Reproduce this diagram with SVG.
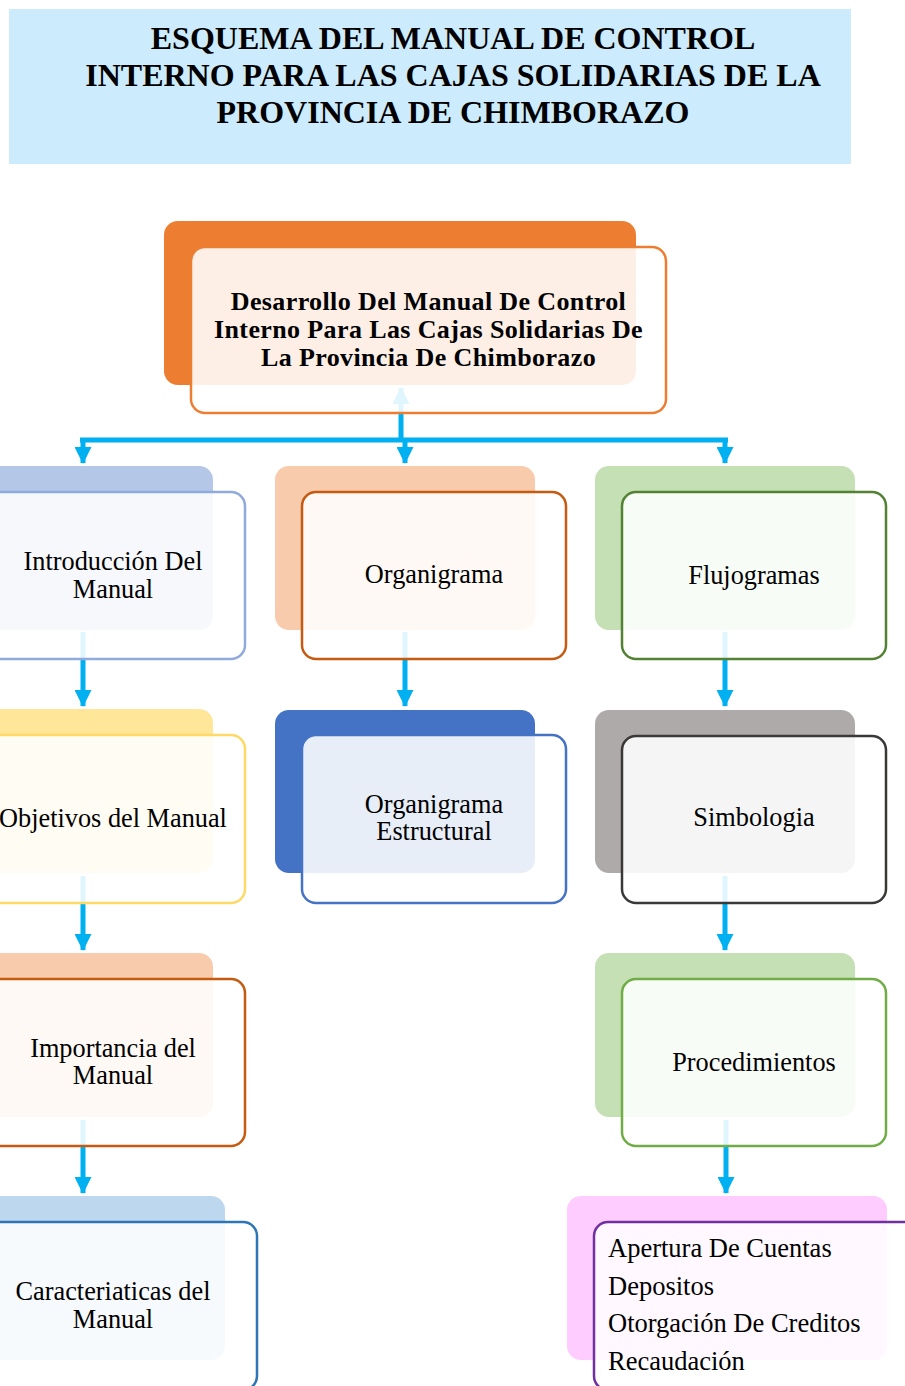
<svg xmlns="http://www.w3.org/2000/svg" width="905" height="1386" viewBox="0 0 905 1386">
<defs>
<marker id="ah" markerUnits="userSpaceOnUse" markerWidth="17" markerHeight="17" viewBox="0 0 17 17" refX="16" refY="8.5" orient="auto">
<path d="M0,0 L17,8.5 L0,17 z" fill="#00B0F0"/>
</marker>
<style>
.t{font-family:"Liberation Serif","Times New Roman",serif;font-size:26.3px;fill:#000;text-anchor:middle}
.tl{font-family:"Liberation Serif","Times New Roman",serif;font-size:26.5px;fill:#000}
.tb{font-family:"Liberation Serif","Times New Roman",serif;font-size:26px;letter-spacing:0.38px;font-weight:bold;fill:#000;text-anchor:middle}
.title{font-family:"Liberation Serif","Times New Roman",serif;font-size:32px;font-weight:bold;fill:#000;text-anchor:middle}
.fr{fill:#fff;fill-opacity:0.88;stroke-width:2.5}
.c{fill:none;stroke:#00B0F0;stroke-width:5;marker-end:url(#ah)}
.cn{fill:none;stroke:#00B0F0;stroke-width:5}
</style>
</defs>
<rect width="905" height="1386" fill="#fff"/>

<g id="title">
<rect x="9" y="9" width="842" height="155" fill="#CCEBFD"/>
<text class="title" x="453" y="49">ESQUEMA DEL MANUAL DE CONTROL</text>
<text class="title" x="453" y="86">INTERNO PARA LAS CAJAS SOLIDARIAS DE LA</text>
<text class="title" x="453" y="123">PROVINCIA DE CHIMBORAZO</text>
</g>

<g id="connectors">
<path class="c" d="M401,440 L401,388"/>
<path class="cn" d="M80,440 L728,440"/>
<path class="c" d="M83,438 L83,463"/>
<path class="c" d="M405,442 L405,463"/>
<path class="c" d="M725,438 L725,463"/>
<path class="c" d="M83,632 L83,706"/>
<path class="c" d="M405,632 L405,706"/>
<path class="c" d="M725,632 L725,706"/>
<path class="c" d="M83,876 L83,950"/>
<path class="c" d="M725,876 L725,950"/>
<path class="c" d="M83,1120 L83,1193"/>
<path class="c" d="M726,1120 L726,1193"/>
</g>

<g id="root">
<rect x="164" y="221" width="472" height="164" rx="14" fill="#ED7D31"/>
<rect class="fr" x="191" y="247" width="475" height="166" rx="14" stroke="#ED7D31"/>
<text class="tb" x="428.5" y="310">Desarrollo Del Manual De Control</text>
<text class="tb" x="428.5" y="338">Interno Para Las Cajas Solidarias De</text>
<text class="tb" x="428.5" y="366">La Provincia De Chimborazo</text>
</g>

<g id="introduccion">
<rect x="-47" y="466" width="260" height="164" rx="14" fill="#B4C7E7"/>
<rect class="fr" x="-19" y="492" width="264" height="167" rx="14" stroke="#8FAADC"/>
<text class="t" x="113" y="570">Introducción Del</text>
<text class="t" x="113" y="598">Manual</text>
</g>

<g id="organigrama">
<rect x="275" y="466" width="260" height="164" rx="14" fill="#F8CBAD"/>
<rect class="fr" x="302" y="492" width="264" height="167" rx="14" stroke="#C55A11"/>
<text class="t" x="434" y="583">Organigrama</text>
</g>

<g id="flujogramas">
<rect x="595" y="466" width="260" height="164" rx="14" fill="#C5E0B4"/>
<rect class="fr" x="622" y="492" width="264" height="167" rx="14" stroke="#548235"/>
<text class="t" x="754" y="584">Flujogramas</text>
</g>

<g id="objetivos">
<rect x="-47" y="709" width="260" height="164" rx="14" fill="#FFE699"/>
<rect class="fr" x="-19" y="735" width="264" height="168" rx="14" stroke="#FFD966"/>
<text class="t" x="113" y="827">Objetivos del Manual</text>
</g>

<g id="organigrama-estructural">
<rect x="275" y="710" width="260" height="163" rx="14" fill="#4472C4"/>
<rect class="fr" x="302" y="735" width="264" height="168" rx="14" stroke="#4472C4"/>
<text class="t" x="434" y="813">Organigrama</text>
<text class="t" x="434" y="840">Estructural</text>
</g>

<g id="simbologia">
<rect x="595" y="710" width="260" height="163" rx="14" fill="#AEAAAA"/>
<rect class="fr" x="622" y="736" width="264" height="167" rx="14" stroke="#3B3838"/>
<text class="t" x="754" y="826">Simbologia</text>
</g>

<g id="importancia">
<rect x="-47" y="953" width="260" height="164" rx="14" fill="#F8CBAD"/>
<rect class="fr" x="-19" y="979" width="264" height="167" rx="14" stroke="#C55A11"/>
<text class="t" x="113" y="1057">Importancia del</text>
<text class="t" x="113" y="1084">Manual</text>
</g>

<g id="procedimientos">
<rect x="595" y="953" width="260" height="164" rx="14" fill="#C5E0B4"/>
<rect class="fr" x="622" y="979" width="264" height="167" rx="14" stroke="#70AD47"/>
<text class="t" x="754" y="1071">Procedimientos</text>
</g>

<g id="caracteristicas">
<rect x="-59" y="1196" width="284" height="164" rx="14" fill="#BDD7EE"/>
<rect class="fr" x="-31" y="1222" width="288" height="168" rx="14" stroke="#2E75B6"/>
<text class="t" x="113" y="1300">Caracteriaticas del</text>
<text class="t" x="113" y="1328">Manual</text>
</g>

<g id="lista-procedimientos">
<rect x="567" y="1196" width="320" height="164" rx="14" fill="#FFCCFF"/>
<rect class="fr" x="594" y="1222" width="324" height="168" rx="14" stroke="#7030A0"/>
<text class="tl" x="608" y="1257">Apertura De Cuentas</text>
<text class="tl" x="608" y="1295">Depositos</text>
<text class="tl" x="608" y="1332">Otorgación De Creditos</text>
<text class="tl" x="608" y="1370">Recaudación</text>
</g>
</svg>
